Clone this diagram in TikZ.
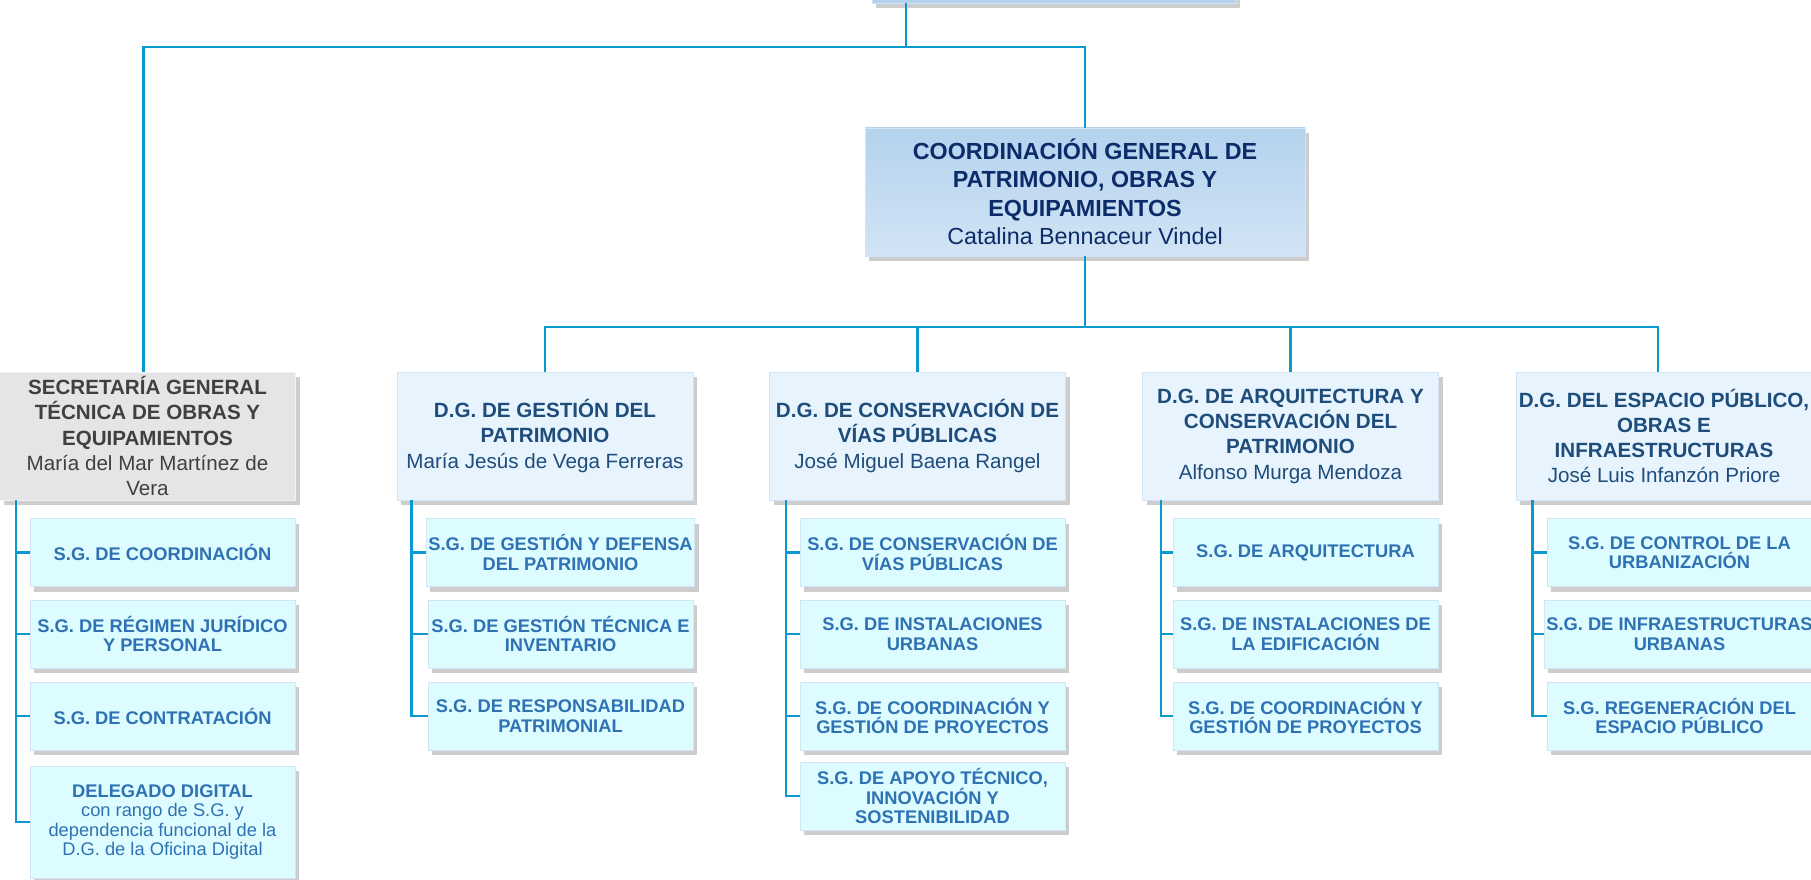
\documentclass[tikz,border=0pt]{standalone}
\usepackage{fontspec}
\setmainfont{Liberation Sans}
\usepackage{tikz}
\usetikzlibrary{shadows,positioning}
\definecolor{conncol}{HTML}{0A9AD2}
\definecolor{cgtop}{HTML}{B4D2EE}
\definecolor{cgbot}{HTML}{D2E4F5}
\definecolor{cgtext}{HTML}{0C2B69}
\definecolor{dgfill}{HTML}{E7F3FD}
\definecolor{dgtext}{HTML}{1E4D7B}
\definecolor{sgtfill}{HTML}{E5E5E5}
\definecolor{sgttext}{HTML}{404040}
\definecolor{subfill}{HTML}{DDFCFF}
\definecolor{subtext}{HTML}{2F72B4}
\definecolor{edgecol}{HTML}{D3E4F4}
\tikzset{
  conn/.style={draw=conncol, line width=2.6pt},
  boxshadow/.style={drop shadow={shadow xshift=4pt, shadow yshift=-5pt, opacity=0.28, fill=black!70}},
  cgbox/.style={boxshadow, draw=edgecol, line width=0.8pt, top color=cgtop, bottom color=cgbot,
    text=cgtext, minimum width=440pt, minimum height=128pt, inner xsep=2pt, inner ysep=0pt,
    align=center, font=\fontsize{23.3}{28.5}\selectfont},
  topbox/.style={cgbox, minimum width=364pt, minimum height=62pt, top color=cgtop!80!blue!60, bottom color=cgtop},
  dgbox/.style={boxshadow, draw=edgecol, line width=0.8pt, fill=dgfill, text=dgtext,
    minimum width=296pt, minimum height=128pt, inner xsep=2pt, inner ysep=0pt,
    align=center, font=\fontsize{20.6}{25.3}\selectfont},
  sgtbox/.style={dgbox, fill=sgtfill, draw=white!90!gray, text=sgttext},
  subbox/.style={boxshadow, draw=edgecol, line width=0.8pt, fill=subfill, text=subtext,
    minimum width=265pt, minimum height=68pt, inner xsep=2pt, inner ysep=0pt,
    align=center, font=\fontsize{18.3}{19.6}\selectfont\bfseries}
}

\begin{document}
\begin{tikzpicture}[x=1pt,y=-1pt]
\useasboundingbox (0,0) rectangle (1811,880);
\clip (0,0) rectangle (1811,880);

%Boxes
\node[topbox] (alc) at (1054,-28) {};
\node[cgbox] (cg) at (1085,192) {\textbf{COORDINACIÓN GENERAL DE}\\\textbf{PATRIMONIO, OBRAS Y}\\\textbf{EQUIPAMIENTOS}\\Catalina Bennaceur Vindel};

\node[sgtbox] (sgt) at (147.5,436) {\textbf{SECRETARÍA GENERAL}\\\textbf{TÉCNICA DE OBRAS Y}\\\textbf{EQUIPAMIENTOS}\\María del Mar Martínez de\\Vera};
\node[dgbox] (dg1) at (545,436) {\textbf{D.G. DE GESTIÓN DEL}\\\textbf{PATRIMONIO}\\María Jesús de Vega Ferreras};
\node[dgbox] (dg2) at (917.5,436) {\textbf{D.G. DE CONSERVACIÓN DE}\\\textbf{VÍAS PÚBLICAS}\\José Miguel Baena Rangel};
\node[dgbox] (dg3) at (1290.5,436) {\textbf{D.G. DE ARQUITECTURA Y}\\\textbf{CONSERVACIÓN DEL}\\\textbf{PATRIMONIO}\\Alfonso Murga Mendoza};
\node[dgbox] (dg4) at (1664,436) {\textbf{D.G. DEL ESPACIO PÚBLICO,}\\\textbf{OBRAS E}\\\textbf{INFRAESTRUCTURAS}\\José Luis Infanzón Priore};

%Sub-boxes
\node[subbox] (s1) at (162.5,552.5) {S.G. DE COORDINACIÓN};
\node[subbox] (s2) at (162.5,634) {S.G. DE RÉGIMEN JURÍDICO\\Y PERSONAL};
\node[subbox] (s3) at (162.5,716) {S.G. DE CONTRATACIÓN};
\node[subbox, minimum height=112pt] (s4) at (162.5,822) {DELEGADO DIGITAL\\\textmd{con rango de S.G. y}\\\textmd{dependencia funcional de la}\\\textmd{D.G. de la Oficina Digital}};

\node[subbox] (g1) at (560.5,552.5) {S.G. DE GESTIÓN Y DEFENSA\\DEL PATRIMONIO};
\node[subbox] (g2) at (560.5,634) {S.G. DE GESTIÓN TÉCNICA E\\INVENTARIO};
\node[subbox] (g3) at (560.5,716) {S.G. DE RESPONSABILIDAD\\PATRIMONIAL};

\node[subbox] (v1) at (932.5,552.5) {S.G. DE CONSERVACIÓN DE\\VÍAS PÚBLICAS};
\node[subbox] (v2) at (932.5,634) {S.G. DE INSTALACIONES\\URBANAS};
\node[subbox] (v3) at (932.5,716) {S.G. DE COORDINACIÓN Y\\GESTIÓN DE PROYECTOS};
\node[subbox] (v4) at (932.5,796) {S.G. DE APOYO TÉCNICO,\\INNOVACIÓN Y\\SOSTENIBILIDAD};

\node[subbox] (a1) at (1305.5,552.5) {S.G. DE ARQUITECTURA};
\node[subbox] (a2) at (1305.5,634) {S.G. DE INSTALACIONES DE\\LA EDIFICACIÓN};
\node[subbox] (a3) at (1305.5,716) {S.G. DE COORDINACIÓN Y\\GESTIÓN DE PROYECTOS};

\node[subbox] (e1) at (1679.5,552.5) {S.G. DE CONTROL DE LA\\URBANIZACIÓN};
\node[subbox] (e2) at (1679.5,634) {S.G. DE INFRAESTRUCTURAS\\URBANAS};
\node[subbox] (e3) at (1679.5,716) {S.G. REGENERACIÓN DEL\\ESPACIO PÚBLICO};

%Lines
\coordinate (bus1) at (906,47);
\coordinate (bus2) at (1087,327);
\draw[conn] (alc.south -| bus1) -- (bus1);
\draw[conn] ([xshift=-4pt]sgt.north) |- (bus1) -| (cg.north);
\draw[conn] (cg.south) -- (cg.south |- bus2);
\draw[conn] (dg1.north) |- (bus2) -| ([xshift=-6pt]dg4.north);
\draw[conn] (dg2.north) -- (dg2.north |- bus2);
\draw[conn] (dg3.north) -- (dg3.north |- bus2);

\coordinate (rs) at ([xshift=17pt]sgt.south west);
\coordinate (rg) at ([xshift=15pt]dg1.south west);
\coordinate (rv) at ([xshift=17pt]dg2.south west);
\coordinate (ra) at ([xshift=19pt]dg3.south west);
\coordinate (re) at ([xshift=17pt]dg4.south west);
\draw[conn] (rs) |- (s4.west);
\draw[conn] (rg) |- (g3.west);
\draw[conn] (rv) |- (v4.west);
\draw[conn] (ra) |- (a3.west);
\draw[conn] (re) |- (e3.west);
\foreach \n in {s1,s2,s3} \draw[conn] (\n.west) -- (\n.west -| rs);
\foreach \n in {g1,g2} \draw[conn] (\n.west) -- (\n.west -| rg);
\foreach \n in {v1,v2,v3} \draw[conn] (\n.west) -- (\n.west -| rv);
\foreach \n in {a1,a2} \draw[conn] (\n.west) -- (\n.west -| ra);
\foreach \n in {e1,e2} \draw[conn] (\n.west) -- (\n.west -| re);
\end{tikzpicture}
\end{document}
